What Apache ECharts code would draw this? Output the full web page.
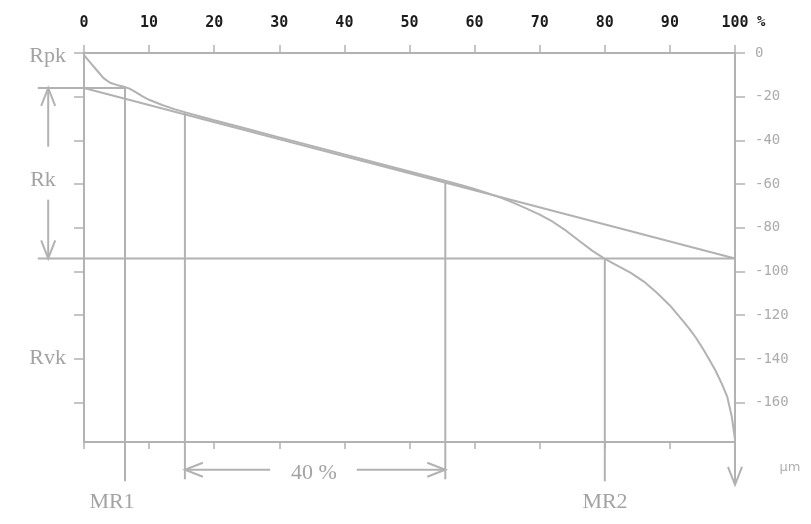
<!DOCTYPE html>
<html>
<head>
<meta charset="utf-8">
<script src="https://cdn.jsdelivr.net/npm/echarts@6/dist/echarts.min.js"></script>
<style>html,body{margin:0;padding:0;background:#fff}#c{width:811px;height:524px}</style>
</head>
<body>
<div id="c"></div>
<script>
// ---- data ----
const xTickValues = [0, 10, 20, 30, 40, 50, 60, 70, 80, 90, 100];   // material ratio %
const yTickValues = [0, -20, -40, -60, -80, -100, -120, -140, -160]; // height µm
const curvePct = [0, 1, 2, 3, 4, 5, 6, 7, 8, 9, 10, 12, 14, 16, 18, 20, 25, 30, 35, 40, 45, 50, 55, 58, 60, 62, 64, 66, 68, 70, 72, 74, 76, 78, 80, 82, 84, 86, 88, 90, 91, 92, 93, 94, 95, 96, 97, 98, 98.8, 99.5, 100];
const curveHeight = [-1, -4.5, -8, -11.5, -13.6, -14.6, -15.3, -16.3, -18, -19.8, -21.4, -23.8, -25.8, -27.5, -29.2, -30.8, -34.7, -38.6, -42.5, -46.4, -50.3, -54.2, -58.1, -60.5, -62.2, -64.1, -66.2, -68.6, -71.2, -74, -77.2, -81.2, -85.8, -90.3, -94.2, -97.4, -100.6, -104.6, -109.7, -115.5, -119, -122.6, -126.2, -130.3, -135, -140, -145.3, -151.5, -157.2, -166.3, -176.9];
const RkTop = -16, RkBottom = -94;     // µm
const MR1 = 6.3, MR2 = 80;             // %
const windowStart = 15.5, windowEnd = 55.5, windowWidth = 40; // %

// ---- layout constants ----
const Y_MIN = -178, Y_MAX = 0;
const lineColor = '#b2b2b2';
const textColor = '#a3a3a3';
const gutterX = -7.1;     // left end of Rk lines (in % units)
const arrowX = -5.5;      // Rk arrow x
const belowY = -196;      // bottom of MR lines
const arrowRowY = -190.7; // 40 % arrow row

const secant = (p) => RkTop + (RkBottom - RkTop) * p / 100;
function curveAt(p) {
  for (let i = 1; i < curvePct.length; i++) {
    if (p <= curvePct[i]) {
      const t = (p - curvePct[i - 1]) / (curvePct[i] - curvePct[i - 1]);
      return curveHeight[i - 1] + t * (curveHeight[i] - curveHeight[i - 1]);
    }
  }
  return curveHeight[curveHeight.length - 1];
}

// segments: [x1, y1, x2, y2, arrowAtStart, arrowAtEnd]
const segments = [
  [0, RkTop, 100, RkBottom, 0, 0],                       // equivalent straight line
  [gutterX, RkTop, MR1, RkTop, 0, 0],                    // Rk upper line
  [gutterX, RkBottom, 100, RkBottom, 0, 0],              // Rk lower line
  [MR1, RkTop, MR1, belowY, 0, 0],                       // MR1
  [MR2, RkBottom, MR2, belowY, 0, 0],                    // MR2
  [windowStart, curveAt(windowStart), windowStart, belowY + 1, 0, 0],
  [windowEnd, secant(windowEnd), windowEnd, belowY + 1, 0, 0],
  [windowStart, arrowRowY, 28.6, arrowRowY, 1, 0],       // 40 % arrow left
  [41.9, arrowRowY, windowEnd, arrowRowY, 0, 1],         // 40 % arrow right
  [arrowX, RkTop, arrowX, -42.9, 1, 0],                  // Rk arrow up
  [arrowX, -67.1, arrowX, RkBottom, 0, 1],               // Rk arrow down
  [100, Y_MIN, 100, -197.6, 0, 1]                        // µm axis arrow
];

const curveData = curvePct.map((p, i) => [p, curveHeight[i]]);

function renderSeg(params, api) {
  const p1 = api.coord([api.value(0), api.value(1)]);
  const p2 = api.coord([api.value(2), api.value(3)]);
  const children = [{
    type: 'line',
    shape: { x1: p1[0], y1: p1[1], x2: p2[0], y2: p2[1] },
    style: { stroke: lineColor, lineWidth: 2 }
  }];
  function head(tip, from) {
    const dx = tip[0] - from[0], dy = tip[1] - from[1];
    const len = Math.sqrt(dx * dx + dy * dy) || 1;
    const ux = dx / len, uy = dy / len;
    const L = 18, W = 7;
    const bx = tip[0] - ux * L, by = tip[1] - uy * L;
    children.push({
      type: 'polyline',
      shape: { points: [[bx - uy * W, by + ux * W], tip, [bx + uy * W, by - ux * W]] },
      style: { stroke: lineColor, lineWidth: 2, fill: null }
    });
  }
  if (api.value(4)) head(p1, p2);
  if (api.value(5)) head(p2, p1);
  return { type: 'group', children };
}

const serif = 'Liberation Serif';
function txt(text, x, y, align, size) {
  return {
    type: 'text', x, y,
    style: { text, fill: textColor, font: (size || 22) + 'px "' + serif + '"', align: align || 'center', verticalAlign: 'middle' }
  };
}

const chart = echarts.init(document.getElementById('c'), null, { renderer: 'canvas' });
const axisLineStyle = { color: lineColor, width: 2 };
chart.setOption({
  animation: false,
  backgroundColor: '#ffffff',
  grid: { left: 84, right: 76, top: 53, bottom: 82, containLabel: false },
  xAxis: [
    {
      type: 'value', position: 'bottom', min: 0, max: 100, interval: 10,
      axisLine: { show: true, onZero: false, lineStyle: axisLineStyle },
      axisTick: { show: true, length: 7, lineStyle: { color: lineColor, width: 1.5 } },
      axisLabel: { show: false }, splitLine: { show: false }
    },
    {
      type: 'value', position: 'top', min: 0, max: 100, interval: 10,
      axisLine: { show: true, onZero: false, lineStyle: axisLineStyle },
      axisTick: { show: true, length: 8, lineStyle: { color: lineColor, width: 1.5 } },
      axisLabel: {
        show: true, margin: 22, color: '#1c1c1c',
        fontFamily: 'DejaVu Sans Mono', fontWeight: 'bold', fontSize: 15,
        formatter: (v) => xTickValues.indexOf(v) >= 0 ? String(v) : ''
      },
      splitLine: { show: false }
    }
  ],
  yAxis: [
    {
      type: 'value', position: 'left', min: Y_MIN, max: Y_MAX,
      axisLine: { show: true, onZero: false, lineStyle: axisLineStyle },
      axisTick: { show: true, length: 10, customValues: yTickValues, lineStyle: { color: lineColor, width: 1.5 } },
      axisLabel: { show: false, customValues: yTickValues }, splitLine: { show: false }
    },
    {
      type: 'value', position: 'right', min: Y_MIN, max: Y_MAX,
      axisLine: { show: true, onZero: false, lineStyle: axisLineStyle },
      axisTick: { show: true, length: 10, customValues: yTickValues, lineStyle: { color: lineColor, width: 1.5 } },
      axisLabel: {
        show: true, customValues: yTickValues, margin: 20, color: '#ababab',
        fontFamily: 'DejaVu Sans Mono', fontSize: 14,
        formatter: (v) => String(v)
      },
      splitLine: { show: false }
    }
  ],
  series: [
    {
      type: 'custom', name: 'guides', xAxisIndex: 0, yAxisIndex: 0,
      renderItem: renderSeg, data: segments, clip: false, silent: true, z: 3
    },
    {
      type: 'line', name: 'Abbott curve', xAxisIndex: 0, yAxisIndex: 0,
      data: curveData, showSymbol: false, symbol: 'none', clip: false,
      lineStyle: { color: lineColor, width: 2 }, z: 4, silent: true
    }
  ],
  graphic: [
    txt('Rpk', 66, 56, 'right'),
    txt('Rk', 43, 180, 'center'),
    txt('Rvk', 66, 358, 'right'),
    txt('MR1', 112, 502, 'center'),
    txt('MR2', 605, 502, 'center'),
    txt(windowWidth + ' %', 314, 473, 'center'),
    { type: 'text', x: 757, y: 22, style: { text: '%', fill: '#1c1c1c', font: 'bold 14px "DejaVu Sans Mono"', align: 'left', verticalAlign: 'middle' } },
    { type: 'text', x: 790, y: 468, style: { text: 'µm', fill: '#b0b0b0', font: '13px "DejaVu Sans"', align: 'center', verticalAlign: 'middle' } }
  ]
});
</script>
</body>
</html>
